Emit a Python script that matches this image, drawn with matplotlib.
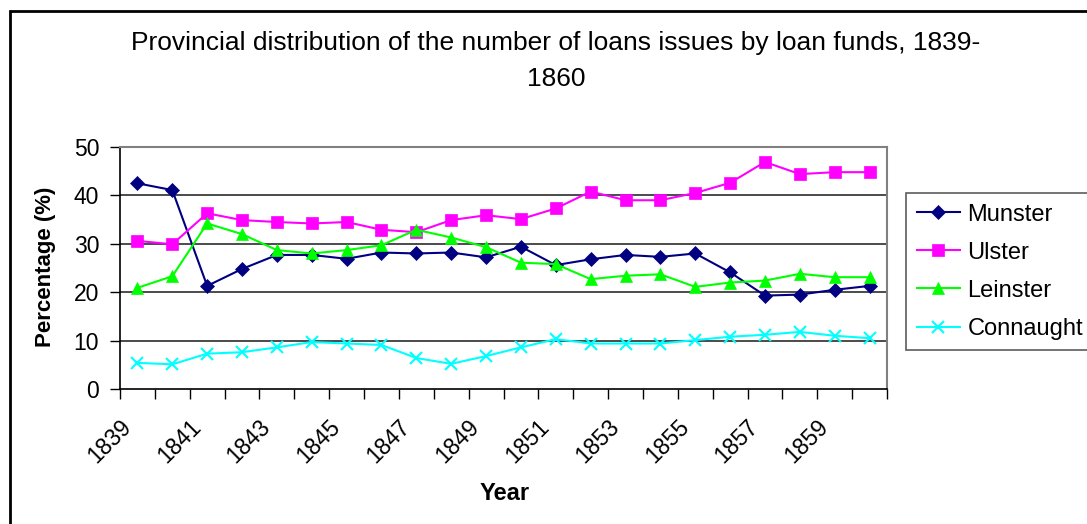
import matplotlib
matplotlib.use("Agg")
import numpy as np
from matplotlib import pyplot as plt
from matplotlib.transforms import ScaledTranslation

plt.rcParams['font.family'] = ['Liberation Sans', 'DejaVu Sans']

years = list(range(1839, 1861))
munster = [42.5, 41.1, 21.3, 24.8, 27.7, 27.7, 26.9, 28.2, 28.0, 28.2, 27.2,
           29.4, 25.6, 26.8, 27.7, 27.3, 28.0, 24.1, 19.3, 19.5, 20.5, 21.3]
ulster = [30.6, 29.9, 36.3, 34.9, 34.5, 34.2, 34.5, 32.9, 32.4, 34.9, 35.9,
          35.1, 37.3, 40.8, 39.0, 39.0, 40.5, 42.6, 46.9, 44.4, 44.8, 44.8]
leinster = [20.9, 23.3, 34.2, 32.0, 28.7, 28.0, 28.7, 29.7, 32.9, 31.3, 29.3,
            26.1, 25.8, 22.7, 23.4, 23.7, 21.1, 22.0, 22.4, 23.8, 23.1, 23.1]
connaught = [5.4, 5.1, 7.3, 7.6, 8.6, 9.7, 9.4, 9.1, 6.4, 5.2, 6.8,
             8.6, 10.3, 9.4, 9.4, 9.4, 10.1, 10.8, 11.2, 11.8, 11.0, 10.5]

series = [
	("Munster", munster, "#000080", "D", 7.5),
	("Ulster", ulster, "#FF00FF", "s", 8),
	("Leinster", leinster, "#00FF00", "^", 9),
	("Connaught", connaught, "#00FFFF", "x", 8.5),
]

W, H = 1087, 524
fig = plt.figure(figsize=(W / 100, H / 100), dpi=100)
ax = fig.add_axes([120 / W, 1 - 389 / H, 767 / W, 242 / H])

x = np.arange(len(years))
for name, vals, color, marker, ms in series:
	ax.plot(x, vals, color=color, marker=marker, markersize=ms, lw=1.5,
		markeredgewidth=1.5 if marker == "x" else 0.5, label=name)

ax.set_xlim(-0.5, len(years) - 0.5)
ax.set_ylim(0, 50)
ax.set_yticks(range(0, 51, 10))
for yv in range(10, 50, 10):
	ax.axhline(yv, color="#1a1a1a", lw=1.1, zorder=0)

# boundary tick marks between categories, labels every other year
ax.set_xticks(np.arange(-0.5, len(years), 1.0))
ax.set_xticklabels([])
ax.set_xticks(x[::2], minor=True)
ax.set_xticklabels([str(y) for y in years[::2]], minor=True,
	rotation=45, ha="right", va="center", rotation_mode="anchor")
ax.tick_params(axis="x", which="minor", length=0, pad=25, labelsize=16.5)
ax.tick_params(axis="x", which="major", direction="out", length=7, width=1)
ax.tick_params(axis="y", direction="out", length=7, width=1, labelsize=16.5, pad=8)
for lab in ax.get_xticklabels(minor=True):
	lab.set_transform(lab.get_transform() + ScaledTranslation(-0.10, 0, fig.dpi_scale_trans))

for side in ("left", "bottom"):
	ax.spines[side].set_color("black")
	ax.spines[side].set_linewidth(1.2)
for side in ("top", "right"):
	ax.spines[side].set_color("#808080")
	ax.spines[side].set_linewidth(1.5)

fig.text(556 / W, 1 - 61 / H, "Provincial distribution of the number of loans issues by loan funds, 1839-\n1860",
	ha="center", va="center", fontsize=19, linespacing=1.6)
fig.text(46 / W, 1 - 267 / H, "Percentage (%)", rotation=90, ha="center", va="center",
	fontsize=16, fontweight="bold")
fig.text(505 / W, 1 - 494 / H, "Year", ha="center", va="center", fontsize=17, fontweight="bold")

leg = fig.legend(loc="upper left", bbox_to_anchor=(906 / W, 1 - 193 / H), fontsize=17,
	frameon=True, fancybox=False, edgecolor="#333333", borderpad=0.45, borderaxespad=0,
	labelspacing=0.68, handlelength=1.85, handletextpad=0.3)
leg.get_frame().set_linewidth(1.2)

# outer chart border
fig.patches.append(plt.Rectangle((10 / W, -0.1), 1.2, 1 - 11 / H + 0.1, transform=fig.transFigure,
	fill=False, edgecolor="black", lw=2))

fig.savefig("out.png", dpi=100)
